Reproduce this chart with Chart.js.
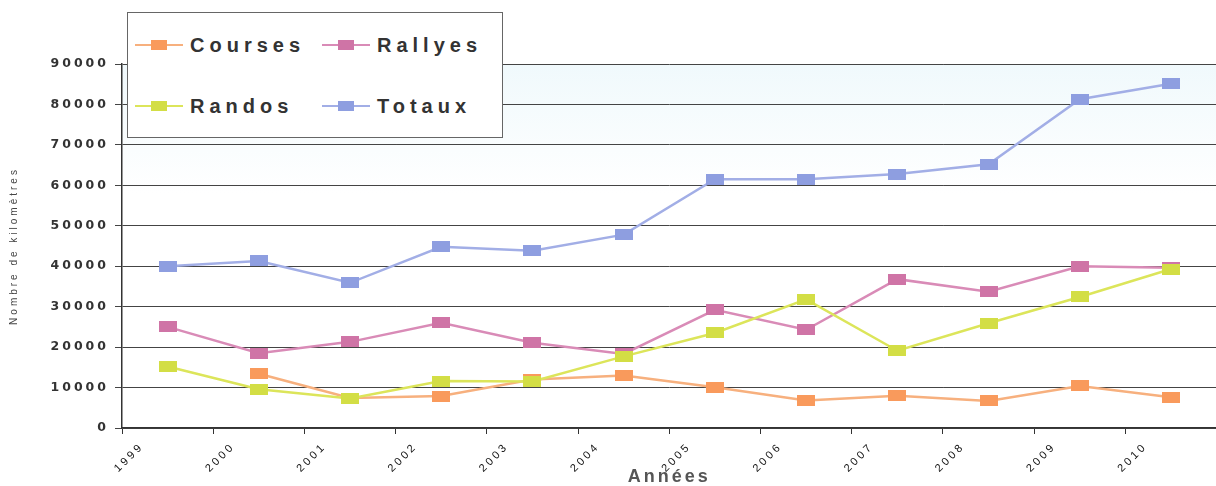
<!DOCTYPE html>
<html>
<head>
<meta charset="utf-8">
<script src="https://cdn.jsdelivr.net/npm/chart.js@4.4.1/dist/chart.umd.min.js"></script>
<style>
body{margin:0;background:#fff;overflow:hidden;}
#wrap{position:relative;width:1216px;height:486px;overflow:hidden;}
#legend{position:absolute;left:127px;top:12px;width:374px;height:124px;border:1px solid #666;background:#fff;
  font-family:"Liberation Sans",Arial,sans-serif;font-weight:bold;font-size:20px;letter-spacing:5px;color:#333;}
.item{position:absolute;display:flex;align-items:center;height:24px;white-space:nowrap;}
.mk{position:relative;width:48px;height:24px;margin-right:7px;}
.mk .ln{position:absolute;left:0;right:0;top:11px;height:2px;}
.mk .sq{position:absolute;left:16px;top:7px;width:16px;height:10px;}
</style>
</head>
<body>
<div id="wrap">
<canvas id="chart" width="1232" height="486"></canvas>
<div id="legend"></div>
</div>
<script>
var ctx = document.getElementById('chart').getContext('2d');

// data
var years = ['1999','2000','2001','2002','2003','2004','2005','2006','2007','2008','2009','2010'];
var courses = [null, 13400, 7400, 7900, 12000, 13000, 10100, 6800, 8000, 6700, 10400, 7600];
var rallyes = [25000, 18500, 21300, 26000, 21100, 18300, 29200, 24300, 36800, 33700, 40000, 39600];
var randos  = [15200, 9600, 7300, 11600, 11500, 17700, 23500, 31800, 19100, 25900, 32400, 39300];
var totaux  = [40000, 41300, 35900, 44800, 43800, 47800, 61500, 61500, 62800, 65200, 81300, 85100];
var yTicks = [0, 10000, 20000, 30000, 40000, 50000, 60000, 70000, 80000, 90000];

var names = ['Courses', 'Rallyes', 'Randos', 'Totaux'];
var lineColors = ['#F7B07E', '#D98BB7', '#DCE55A', '#A2AEE6'];
var markColors = ['#F99A5C', '#CF74A6', '#D3DE45', '#8E9EE0'];

function marker(color){
  var c = document.createElement('canvas');
  c.width = 18; c.height = 11;
  var g = c.getContext('2d');
  g.fillStyle = color;
  g.fillRect(0, 0, 18, 11);
  return c;
}

function toPoints(arr){
  return arr.map(function(v, i){ return {x: i + 0.5, y: v}; });
}

var series = [courses, rallyes, randos, totaux];
var drawOrder = [3, 2, 1, 0];

var datasets = series.map(function(s, k){
  return {
    label: names[k],
    data: toPoints(s),
    borderColor: lineColors[k],
    backgroundColor: markColors[k],
    borderWidth: 2.5,
    pointStyle: marker(markColors[k]),
    pointRadius: 6,
    tension: 0,
    spanGaps: false,
    order: drawOrder[k]
  };
});

// legend in the top-left corner of the plot
var legendPos = [[7, 20], [194, 20], [7, 81], [194, 81]];
var legend = document.getElementById('legend');
names.forEach(function(n, k){
  var it = document.createElement('div');
  it.className = 'item';
  it.style.left = legendPos[k][0] + 'px';
  it.style.top = legendPos[k][1] + 'px';
  it.innerHTML = '<div class="mk"><div class="ln" style="background:' + lineColors[k] + '"></div>' +
    '<div class="sq" style="background:' + markColors[k] + '"></div></div><span>' + n + '</span>';
  legend.appendChild(it);
});

var spacing = {
  id: 'spacing',
  beforeUpdate: function(chart){ chart.ctx.letterSpacing = '3px'; },
  beforeDraw: function(chart){
    chart.ctx.letterSpacing = '3px';
    var a = chart.chartArea, c = chart.ctx;
    var grd = c.createLinearGradient(0, a.top, 0, a.top + 130);
    grd.addColorStop(0, '#f0f9fc');
    grd.addColorStop(1, '#ffffff');
    c.save();
    c.fillStyle = grd;
    c.fillRect(a.left, a.top, a.right - a.left, a.bottom - a.top);
    c.restore();
  }
};

var myChart = new Chart(ctx, {
  type: 'line',
  data: { datasets: datasets },
  plugins: [spacing],
  options: {
    responsive: false,
    animation: false,
    layout: { padding: { top: 64, left: 0, right: 0, bottom: 0 } },
    plugins: { legend: { display: false }, tooltip: { enabled: false } },
    scales: {
      x: {
        type: 'linear',
        min: 0,
        max: 12.0,
        afterFit: function(s){ s.height = 58; },
        border: { color: '#333', width: 1.5 },
        grid: { drawOnChartArea: false, tickLength: 6, color: '#333' },
        ticks: {
          stepSize: 1,
          includeBounds: false,
          autoSkip: false,
          minRotation: 45,
          maxRotation: 45,
          labelOffset: 20,
          padding: 6,
          color: '#111',
          font: { family: "'Liberation Sans', Arial, sans-serif", size: 11 },
          callback: function(v){ return years[v] !== undefined ? years[v] : ''; }
        },
        title: {
          display: true,
          text: 'Années',
          color: '#555',
          padding: { top: 0, bottom: 0 },
          font: { family: "'Liberation Sans', Arial, sans-serif", size: 18, weight: 'bold', lineHeight: 1 }
        }
      },
      y: {
        min: 0,
        max: 90000,
        afterFit: function(s){ s.width = 122; },
        afterBuildTicks: function(s){ s.ticks = yTicks.map(function(v){ return {value: v}; }); },
        border: { color: '#333', width: 1.5 },
        grid: { color: '#444', lineWidth: 1, tickLength: 7 },
        ticks: {
          padding: 6,
          color: '#333',
          font: { family: "'DejaVu Sans', sans-serif", size: 12.5, weight: 'bold' },
          callback: function(v){ return String(v); }
        },
        title: {
          display: true,
          text: 'Nombre de kilomètres',
          color: '#444',
          padding: { top: 8, bottom: 0 },
          font: { family: "'Liberation Sans', Arial, sans-serif", size: 10 }
        }
      }
    }
  }
});
</script>
</body>
</html>
